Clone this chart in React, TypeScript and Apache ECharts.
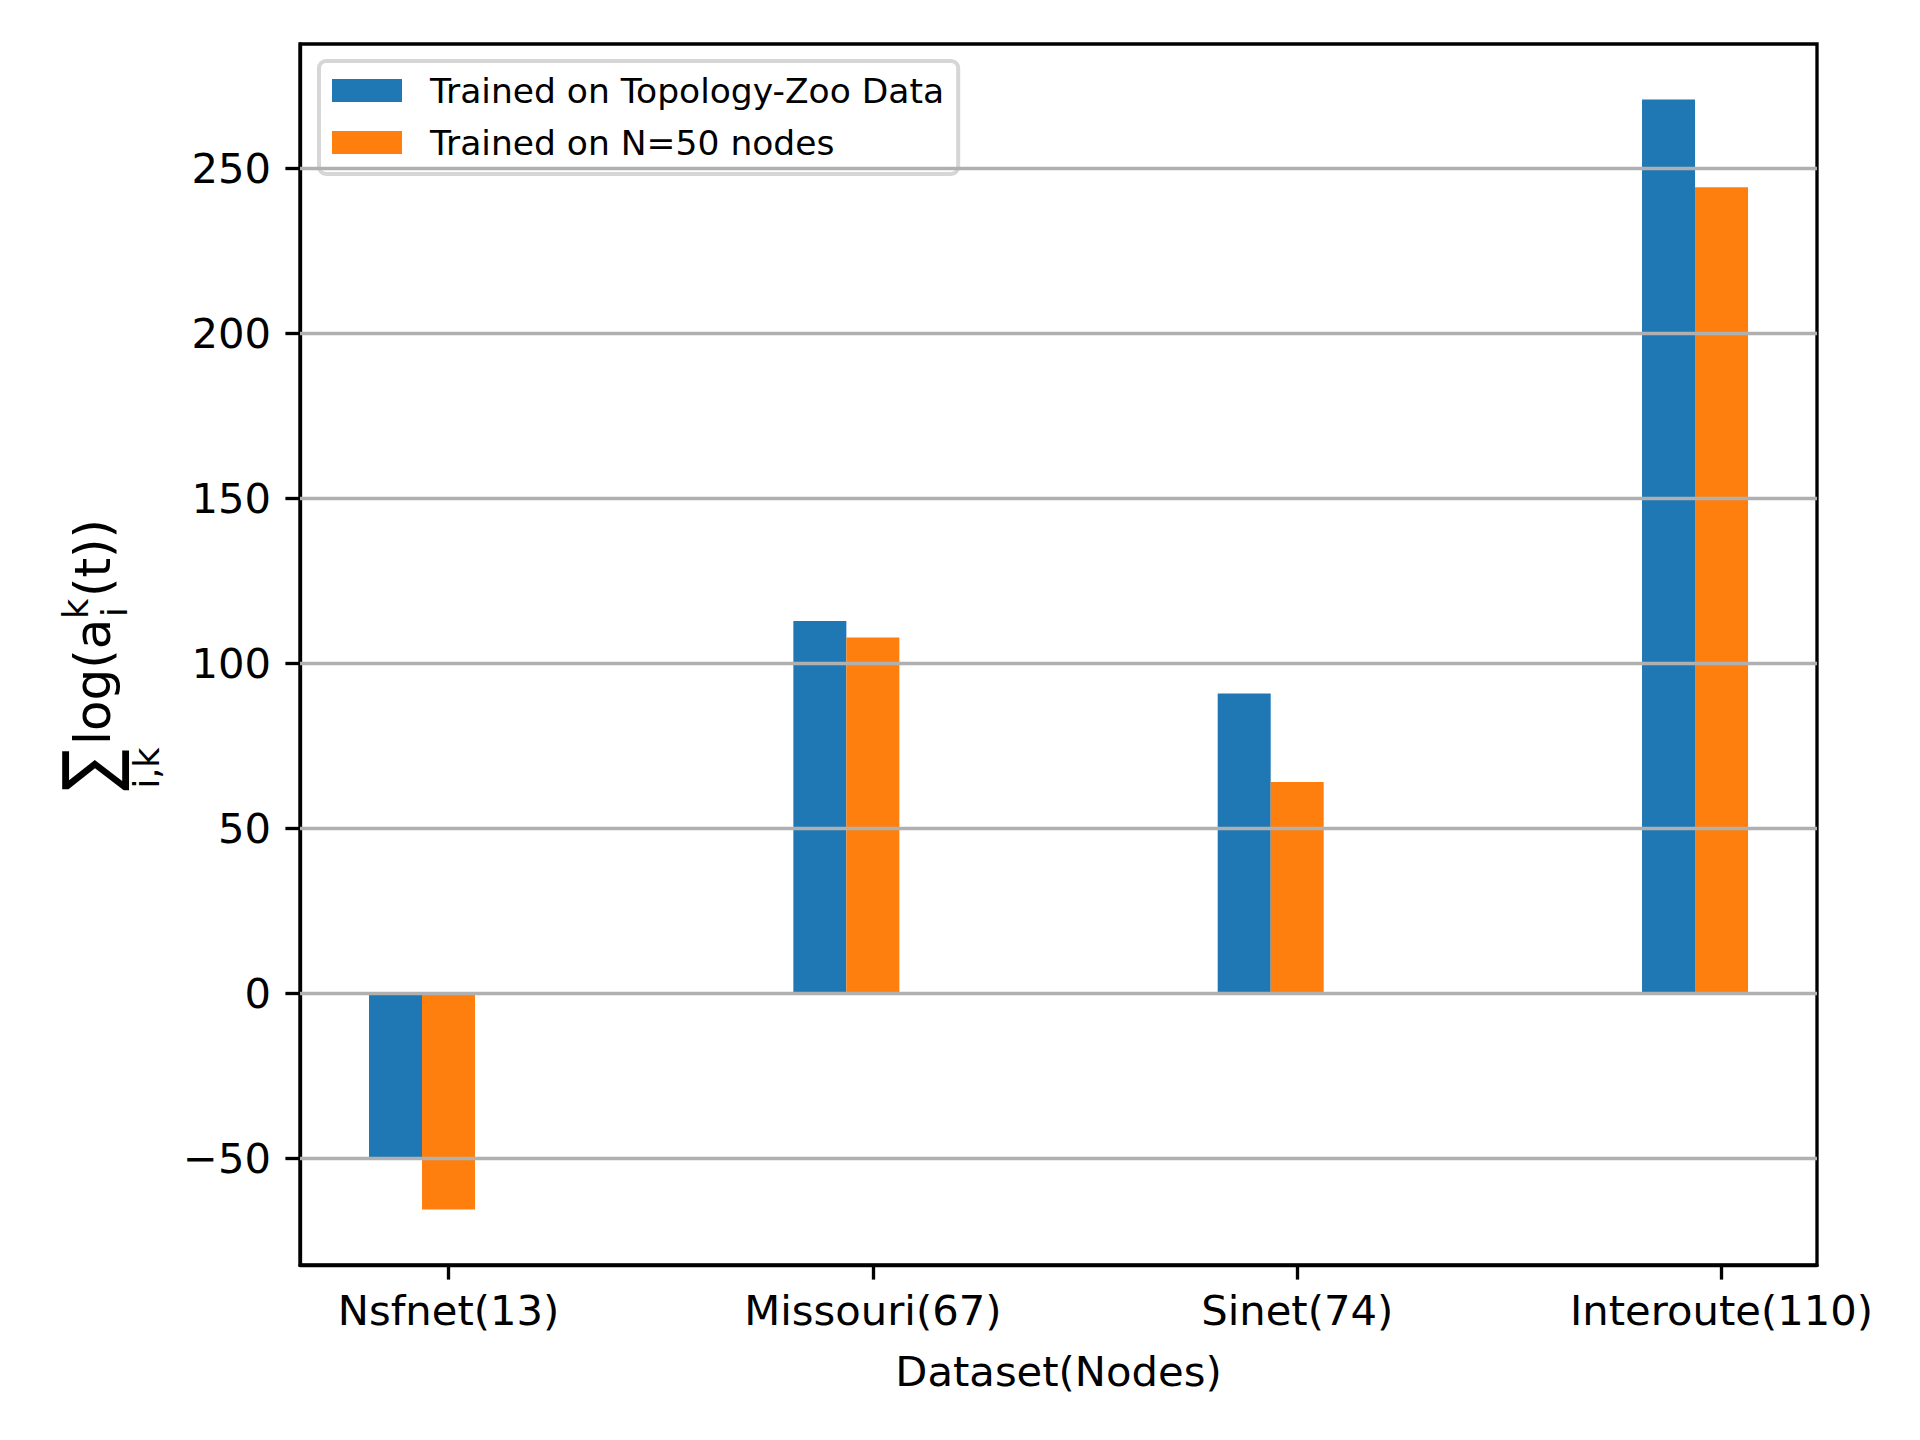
import React, { useEffect, useRef } from "react";
import * as echarts from "echarts";

const categories = ["Nsfnet(13)", "Missouri(67)", "Sinet(74)", "Interoute(110)"];
const seriesNames = ["Trained on Topology-Zoo Data", "Trained on N=50 nodes"];
const topologyZoo = [-49.6, 112.8, 90.8, 270.8];
const nodes50 = [-65.5, 107.8, 64.0, 244.2];
const yTicks = [-50, 0, 50, 100, 150, 200, 250];
const xTicks = [0, 1, 2, 3];
const colors = ["#1f77b4", "#ff7f0e"];

const FONT = "DejaVu Sans";
const LW = 3.33;

export default function App() {
  const ref = useRef<HTMLDivElement>(null);
  useEffect(() => {
    document.body.style.margin = "0";
    if (!ref.current) return;
    const chart = echarts.init(ref.current, undefined, { renderer: "svg" });

    const all = [...topologyZoo, ...nodes50, 0];
    const dMin = Math.min(...all);
    const dMax = Math.max(...all);
    const pad = 0.05 * (dMax - dMin);
    const barW = 0.125;
    const xLo = xTicks[0] - 1.5 * barW;
    const xHi = xTicks[xTicks.length - 1] + 0.5 * barW;
    const xPad = 0.05 * (xHi - xLo);

    const mk = (vals: number[]) => vals.map((v, i) => [xTicks[i], v]);

    const option: any = {
      animation: false,
      backgroundColor: "#ffffff",
      textStyle: { fontFamily: FONT },
      grid: {
        left: 300,
        right: 103,
        top: 44,
        bottom: 175,
        show: true,
        borderColor: "#000",
        borderWidth: LW,
        backgroundColor: "transparent",
      },
      legend: {
        data: seriesNames,
        orient: "vertical",
        left: 319,
        top: 61,
        padding: [12, 14, 14, 13],
        itemWidth: 70,
        itemHeight: 23,
        itemGap: 17,
        icon: "rect",
        backgroundColor: "rgba(255,255,255,0.8)",
        borderColor: "rgba(204,204,204,0.8)",
        borderWidth: 4,
        borderRadius: 7,
        textStyle: {
          fontFamily: FONT,
          fontSize: 34.5,
          lineHeight: 34,
          color: "#000",
          padding: [0, 0, 0, 23],
        },
      },
      xAxis: {
        type: "value",
        min: xLo - xPad,
        max: xHi + xPad,
        splitLine: { show: false },
        axisLine: { show: true, onZero: false, lineStyle: { color: "#000", width: LW } },
        axisTick: {
          show: true,
          customValues: xTicks,
          length: 14.6,
          lineStyle: { color: "#000", width: LW },
        },
        axisLabel: {
          customValues: xTicks,
          formatter: (v: number) => categories[Math.round(v)] ?? "",
          fontFamily: FONT,
          fontSize: 41.7,
          color: "#000",
          margin: 24,
        },
        name: "Dataset(Nodes)",
        nameLocation: "middle",
        nameGap: 85,
        nameTextStyle: { fontFamily: FONT, fontSize: 41.7, color: "#000" },
      },
      yAxis: {
        type: "value",
        min: dMin - pad,
        max: dMax + pad,
        splitLine: { show: false },
        axisLine: { show: true, onZero: false, lineStyle: { color: "#000", width: LW } },
        axisTick: {
          show: true,
          customValues: yTicks,
          length: 14.6,
          lineStyle: { color: "#000", width: LW },
        },
        axisLabel: {
          customValues: yTicks,
          formatter: (v: number) => String(v).replace("-", "\u2212"),
          fontFamily: FONT,
          fontSize: 41.7,
          color: "#000",
          margin: 29,
        },
      },
      series: [
        {
          name: seriesNames[0],
          type: "bar",
          data: mk(topologyZoo),
          barWidth: 53,
          barGap: "0%",
          itemStyle: { color: colors[0] },
          markLine: {
            silent: true,
            symbol: "none",
            z: 5,
            label: { show: false },
            lineStyle: { color: "#b0b0b0", width: LW, type: "solid" },
            data: yTicks.map((v) => ({ yAxis: v })),
          },
        },
        {
          name: seriesNames[1],
          type: "bar",
          data: mk(nodes50),
          barWidth: 53,
          barGap: "0%",
          itemStyle: { color: colors[1] },
        },
        {
          name: "spacer",
          type: "bar",
          data: mk(nodes50.map(() => 0)),
          barWidth: 53,
          barGap: "0%",
          itemStyle: { opacity: 0 },
          silent: true,
        },
      ],
      graphic: [
        {
          type: "group",
          x: 110,
          y: 794,
          rotation: Math.PI / 2,
          children: [
            {
              type: "text",
              x: 24,
              y: -20,
              scaleX: 1.0,
              scaleY: 1.18,
              style: { text: "\u2211", fontFamily: FONT, fontSize: 62, fill: "#000", align: "center", verticalAlign: "middle" },
            },
            {
              type: "text",
              x: 26,
              y: 37,
              style: { text: "i,k", fontFamily: FONT, fontSize: 35, fill: "#000", align: "center", verticalAlign: "middle" },
            },
            {
              type: "text",
              x: 49,
              y: -17,
              style: { text: "log(a", fontFamily: FONT, fontSize: 50, fill: "#000", align: "left", verticalAlign: "middle" },
            },
            {
              type: "text",
              x: 177,
              y: 5,
              style: { text: "i", fontFamily: FONT, fontSize: 35, fill: "#000", align: "left", verticalAlign: "middle" },
            },
            {
              type: "text",
              x: 175,
              y: -34,
              style: { text: "k", fontFamily: FONT, fontSize: 35, fill: "#000", align: "left", verticalAlign: "middle" },
            },
            {
              type: "text",
              x: 197,
              y: -17,
              style: { text: "(t))", fontFamily: FONT, fontSize: 50, fill: "#000", align: "left", verticalAlign: "middle" },
            },
          ],
        },
      ],
    };
    chart.setOption(option);
    return () => chart.dispose();
  }, []);
  return <div ref={ref} style={{ width: 1920, height: 1440 }} />;
}
